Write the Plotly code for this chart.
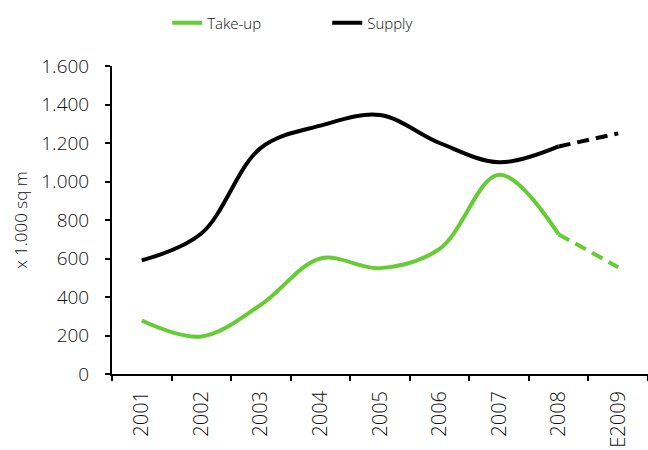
import plotly.graph_objects as go

# Office take-up and supply, thousands of sq m (E2009 = estimate)
years = ["2001", "2002", "2003", "2004", "2005", "2006", "2007", "2008", "E2009"]
take_up = [278, 195, 360, 600, 550, 650, 1035, 725, 555]
supply = [590, 730, 1175, 1290, 1345, 1200, 1100, 1182, 1250]

y_ticks = [0, 200, 400, 600, 800, 1000, 1200, 1400, 1600]

GREEN = "#66CC33"
BLACK = "#000000"
FONT = "'Open Sans', sans-serif"
TEXT = "#111111"

fig = go.Figure()

# actual figures: smoothed solid lines up to 2008
fig.add_trace(go.Scatter(
    x=years[:8], y=take_up[:8], mode="lines", name="Take-up",
    line=dict(color=GREEN, width=4, shape="spline", smoothing=1),
))
fig.add_trace(go.Scatter(
    x=years[:8], y=supply[:8], mode="lines", name="Supply",
    line=dict(color=BLACK, width=4, shape="spline", smoothing=1),
))
# estimate: dashed continuation 2008 -> E2009
fig.add_trace(go.Scatter(
    x=years[7:], y=take_up[7:], mode="lines", showlegend=False,
    line=dict(color=GREEN, width=4, dash="12px,7px"),
))
fig.add_trace(go.Scatter(
    x=years[7:], y=supply[7:], mode="lines", showlegend=False,
    line=dict(color=BLACK, width=4, dash="12px,7px"),
))

fig.update_layout(
    width=648, height=450,
    margin=dict(l=112, r=0, t=66, b=76, autoexpand=False),
    paper_bgcolor="white", plot_bgcolor="white",
    separators=",.",
    font=dict(family=FONT, color=TEXT, size=19, weight=300),
    legend=dict(
        orientation="h", yref="container", y=0.949, x=0.103,
        xanchor="left", yanchor="middle",
        font=dict(size=15, weight=300, color=TEXT), entrywidth=115, itemwidth=30,
        bgcolor="rgba(0,0,0,0)",
    ),
    xaxis=dict(
        type="category", categoryorder="array", categoryarray=years,
        range=[-0.5, 8.5], tickson="boundaries",
        showline=True, linecolor=BLACK, linewidth=2,
        ticks="outside", ticklen=5, tickcolor=BLACK, tickwidth=1.5,
        tickangle=-90, showgrid=False, zeroline=False,
        tickfont=dict(size=20, weight=300, color=TEXT), ticklabelstandoff=7,
    ),
    yaxis=dict(
        range=[0, 1600], tickvals=y_ticks, tickformat=",d",
        showline=True, linecolor=BLACK, linewidth=2,
        ticks="outside", ticklen=5, tickcolor=BLACK, tickwidth=1.5,
        showgrid=False, zeroline=False,
        tickfont=dict(size=19, weight=300, color=TEXT), ticklabelstandoff=12,
        title=dict(text="x 1.000 sq m", font=dict(size=17, weight=300, color=TEXT),
                   standoff=9),
    ),
)

fig.write_html("out.html")
